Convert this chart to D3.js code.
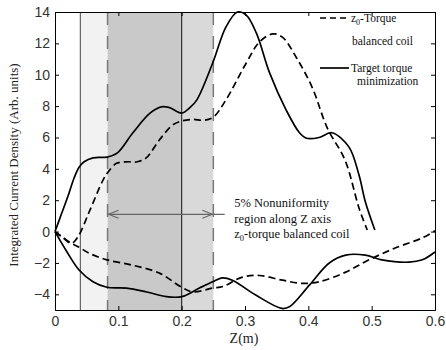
<!DOCTYPE html>
<html>
<head>
<meta charset="utf-8">
<script src="https://cdn.jsdelivr.net/npm/d3@7"></script>
<style>
  html, body { margin: 0; padding: 0; background: #fff; }
  svg { display: block; }
</style>
</head>
<body>
<svg id="chart" width="446" height="350"></svg>
<script>
// ---- data ----
const xTicks = [0, 0.1, 0.2, 0.3, 0.4, 0.5, 0.6];
const yTicks = [-4, -2, 0, 2, 4, 6, 8, 10, 12, 14];

// Target torque minimization (solid), upper branch
const zSolidUp = [0, 0.01, 0.02, 0.03, 0.038, 0.046, 0.06, 0.082, 0.098, 0.123, 0.15, 0.168, 0.181, 0.2, 0.213, 0.224, 0.249, 0.27, 0.288, 0.302, 0.318, 0.339, 0.365, 0.386, 0.397, 0.417, 0.437, 0.464, 0.48, 0.49, 0.505];
const vSolidUp = [0, 1.1, 2.2, 3.4, 4.1, 4.45, 4.7, 4.75, 5.0, 6.3, 7.55, 7.95, 7.9, 7.55, 7.9, 8.4, 10.75, 13.05, 14.0, 13.8, 12.65, 10.1, 7.75, 6.3, 5.95, 6.0, 6.3, 5.4, 3.6, 1.9, 0.1];
// Target torque minimization (solid), lower branch
const zSolidDown = [0, 0.019, 0.038, 0.06, 0.082, 0.113, 0.145, 0.176, 0.2, 0.228, 0.249, 0.264, 0.28, 0.317, 0.358, 0.37, 0.402, 0.433, 0.459, 0.49, 0.516, 0.559, 0.58, 0.6];
const vSolidDown = [0, -1.3, -2.45, -3.2, -3.55, -3.6, -3.85, -4.15, -4.15, -3.6, -3.2, -2.95, -3.1, -4.05, -4.9, -4.8, -3.4, -2.0, -1.5, -1.5, -1.8, -1.95, -1.8, -1.3];
// z0-Torque balanced coil (dashed), upper branch
const zDashUp = [0, 0.013, 0.026, 0.036, 0.055, 0.076, 0.084, 0.097, 0.113, 0.13, 0.144, 0.165, 0.186, 0.2, 0.217, 0.235, 0.25, 0.27, 0.302, 0.323, 0.344, 0.359, 0.381, 0.406, 0.43, 0.458, 0.48, 0.493];
const vDashUp = [0, -0.4, -0.75, -0.35, 1.35, 3.3, 3.8, 4.35, 4.45, 4.45, 4.7, 5.85, 6.8, 7.05, 7.15, 7.1, 7.3, 8.4, 10.75, 12.1, 12.6, 12.4, 11.1, 9.2, 6.6, 4.55, 1.5, 0.1];
// z0-Torque balanced coil (dashed), lower branch
const zDashDown = [0, 0.024, 0.038, 0.055, 0.082, 0.123, 0.165, 0.2, 0.218, 0.249, 0.265, 0.296, 0.323, 0.359, 0.39, 0.417, 0.458, 0.496, 0.537, 0.58, 0.6];
const vDashDown = [0, -0.7, -1.0, -1.4, -1.8, -2.15, -2.65, -3.55, -3.85, -3.6, -3.5, -2.9, -2.8, -3.1, -3.3, -3.2, -2.6, -1.8, -1.05, -0.4, 0.05];

// shaded regions along z
const regionStart = [0.04, 0.083, 0.2];
const regionEnd   = [0.083, 0.2, 0.25];
const regionFill  = ["#f2f2f2", "#c9c9c9", "#d9d9d9"];
// vertical boundary lines
const solidMarks = [0.04, 0.2];
const dashedMarks = [0.083, 0.25];
// arrow of the 5% nonuniformity region
const arrowZ = [0.083, 0.25];
const arrowTail = 0.268;
const arrowV = 1.1;

const legendLabels = [["z", "0", "-Torque"], ["balanced coil"], ["Target torque"], ["minimization"]];
const noteLines = ["5% Nonuniformity", "region along Z axis", "-torque balanced coil"];

// ---- layout ----
const svg = d3.select("#chart");
const m = { left: 55, right: 11, top: 12, bottom: 40 };
const W = 446, H = 350;
const x = d3.scaleLinear().domain([0, 0.6]).range([m.left, W - m.right]);
const y = d3.scaleLinear().domain([-5, 14]).range([H - m.bottom, m.top]);
const serif = "'Liberation Serif', 'Times New Roman', serif";
const sans = "'Liberation Sans', Arial, sans-serif";

// regions
svg.append("g").selectAll("rect").data(regionStart).join("rect")
  .attr("x", (d) => x(d))
  .attr("y", y(14))
  .attr("width", (d, i) => x(regionEnd[i]) - x(d))
  .attr("height", y(-5) - y(14))
  .attr("fill", (d, i) => regionFill[i]);

svg.append("g").selectAll("line").data(solidMarks).join("line")
  .attr("x1", d => x(d)).attr("x2", d => x(d))
  .attr("y1", y(14)).attr("y2", y(-5))
  .attr("stroke", (d, i) => i === 0 ? "#555" : "#222")
  .attr("stroke-width", 1.1);

svg.append("g").selectAll("line").data(dashedMarks).join("line")
  .attr("x1", d => x(d)).attr("x2", d => x(d))
  .attr("y1", y(14)).attr("y2", y(-5))
  .attr("stroke", "#777")
  .attr("stroke-width", 1.5)
  .attr("stroke-dasharray", "13,11");

// arrow
const ag = svg.append("g").attr("stroke", "#666").attr("stroke-width", 1.1).attr("fill", "none");
ag.append("line").attr("x1", x(arrowZ[0])).attr("x2", x(arrowTail))
  .attr("y1", y(arrowV)).attr("y2", y(arrowV));
ag.append("path").attr("d", `M${x(arrowZ[0]) + 11},${y(arrowV) - 4} L${x(arrowZ[0]) + 1},${y(arrowV)} L${x(arrowZ[0]) + 11},${y(arrowV) + 4}`);
ag.append("path").attr("d", `M${x(arrowZ[1]) - 11},${y(arrowV) - 4} L${x(arrowZ[1]) - 1},${y(arrowV)} L${x(arrowZ[1]) - 11},${y(arrowV) + 4}`);

// curves
const line = d3.line().x(d => x(d[0])).y(d => y(d[1])).curve(d3.curveCatmullRom.alpha(0.5));
const zip = (a, b) => a.map((v, i) => [v, b[i]]);
const curves = [
  { data: zip(zSolidUp, vSolidUp), dash: null },
  { data: zip(zSolidDown, vSolidDown), dash: null },
  { data: zip(zDashUp, vDashUp), dash: "7,4" },
  { data: zip(zDashDown, vDashDown), dash: "7,4" }
];
svg.append("g").selectAll("path").data(curves).join("path")
  .attr("d", d => line(d.data))
  .attr("fill", "none")
  .attr("stroke", "#000")
  .attr("stroke-width", 1.7)
  .attr("stroke-dasharray", d => d.dash);

// axes box with inward ticks
const tickLen = 4;
const axB = svg.append("g").attr("transform", `translate(0,${y(-5)})`)
  .call(d3.axisBottom(x).tickValues(xTicks).tickSize(-tickLen).tickPadding(8).tickFormat(d3.format("")));
const axT = svg.append("g").attr("transform", `translate(0,${y(14)})`)
  .call(d3.axisTop(x).tickValues(xTicks).tickSize(-tickLen).tickFormat(""));
const axL = svg.append("g").attr("transform", `translate(${x(0)},0)`)
  .call(d3.axisLeft(y).tickValues(yTicks).tickSize(-tickLen).tickPadding(5));
const axR = svg.append("g").attr("transform", `translate(${x(0.6)},0)`)
  .call(d3.axisRight(y).tickValues(yTicks).tickSize(-tickLen).tickFormat(""));
[axB, axT, axL, axR].forEach(a => {
  a.select(".domain").attr("stroke", "#000").attr("stroke-width", 1);
  a.selectAll(".tick line").attr("stroke", "#000");
  a.selectAll("text").attr("font-family", sans).attr("font-size", 14).attr("fill", "#333");
});
axB.selectAll(".tick text").attr("dy", "0.6em");

// axis titles
svg.append("text")
  .attr("transform", `translate(18,${(y(14) + y(-5)) / 2 + 4}) rotate(-90)`)
  .attr("text-anchor", "middle")
  .attr("font-family", serif).attr("font-size", 13).attr("fill", "#222")
  .text("Integrated Current Density (Arb. units)");
svg.append("text")
  .attr("x", 244).attr("y", 343)
  .attr("text-anchor", "middle")
  .attr("font-family", serif).attr("font-size", 14).attr("fill", "#222")
  .text("Z(m)");

// legend
const lg = svg.append("g").attr("font-family", serif).attr("font-size", 11.5).attr("fill", "#111");
lg.append("line").attr("x1", 320).attr("x2", 348).attr("y1", 18).attr("y2", 18)
  .attr("stroke", "#000").attr("stroke-width", 1.7).attr("stroke-dasharray", "6,4");
lg.append("line").attr("x1", 320).attr("x2", 349).attr("y1", 68).attr("y2", 68)
  .attr("stroke", "#000").attr("stroke-width", 1.7);
const t0 = lg.append("text").attr("x", 351).attr("y", 22);
t0.append("tspan").text(legendLabels[0][0]);
t0.append("tspan").attr("font-size", 8).attr("dy", 3).text(legendLabels[0][1]);
t0.append("tspan").attr("dy", -3).text(legendLabels[0][2]);
lg.append("text").attr("x", 352).attr("y", 45).text(legendLabels[1][0]);
lg.append("text").attr("x", 351).attr("y", 72).text(legendLabels[2][0]);
lg.append("text").attr("x", 357).attr("y", 85).text(legendLabels[3][0]);

// annotation
const ng = svg.append("g").attr("font-family", serif).attr("font-size", 12.5).attr("fill", "#111");
const nx = x(0.283), ny = y(1.56);
ng.append("text").attr("x", nx).attr("y", ny).text(noteLines[0]);
ng.append("text").attr("x", nx).attr("y", ny + 15.5).text(noteLines[1]);
const n3 = ng.append("text").attr("x", nx).attr("y", ny + 30.5);
n3.append("tspan").text("z");
n3.append("tspan").attr("font-size", 8.5).attr("dy", 3).text("0");
n3.append("tspan").attr("dy", -3).text(noteLines[2]);
</script>
</body>
</html>
